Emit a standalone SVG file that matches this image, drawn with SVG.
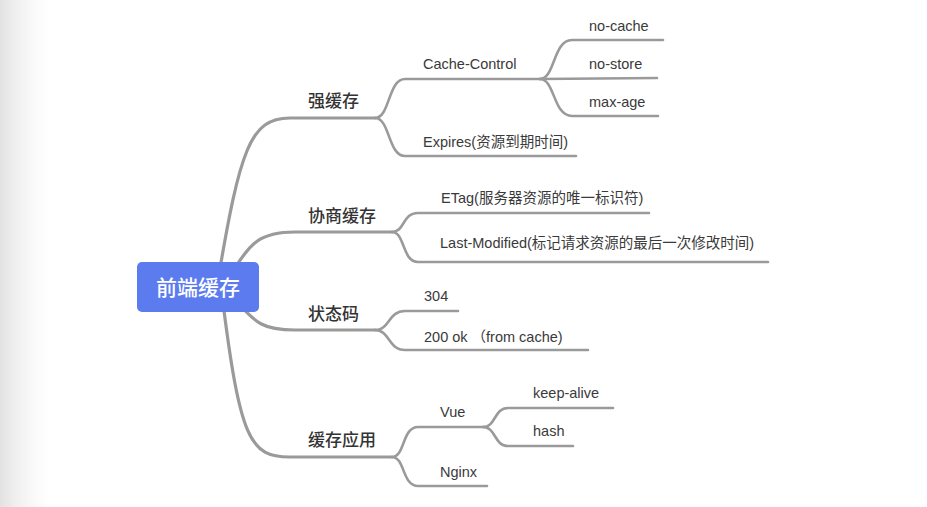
<svg xmlns="http://www.w3.org/2000/svg" width="927" height="507" viewBox="0 0 927 507">
<defs>
<linearGradient id="bg" x1="0" y1="0" x2="1" y2="0">
<stop offset="0" stop-color="#e2e2e2"/>
<stop offset="0.3" stop-color="#efefef"/>
<stop offset="0.7" stop-color="#fafafa"/>
<stop offset="1" stop-color="#ffffff"/>
</linearGradient>
<style>
.main{fill:none;stroke:#9a9a9a;stroke-width:3.2;stroke-linecap:round}
.sub{fill:none;stroke:#9a9a9a;stroke-width:2.6;stroke-linecap:round}
.t1{font-family:"Liberation Sans","Noto Sans CJK SC",sans-serif;font-size:17px;fill:#333;font-weight:500}
.t2{font-family:"Liberation Sans","Noto Sans CJK SC",sans-serif;font-size:14.5px;fill:#3a3a3a}
.root{font-family:"Liberation Sans","Noto Sans CJK SC",sans-serif;font-size:21px;fill:#fff;font-weight:500}
</style>
</defs>
<rect width="927" height="507" fill="#fff"/>
<rect width="50" height="507" fill="url(#bg)"/>
<g id="connectors">
<path class="main" d="M218 280 C240 150 250 118 290 118 L375 118"/>
<path class="main" d="M228 280 C250 240 262 232 295 232 L392 232"/>
<path class="main" d="M232 295 C255 325 265 330 295 330 L375 330"/>
<path class="main" d="M222 295 C240 440 250 457 290 457 L392 457"/>
<path class="sub" d="M375 118 C390 118 388 79 405 79 L540 79"/>
<path class="sub" d="M375 118 C390 118 388 156 405 156 L576 156"/>
<path class="sub" d="M540 79 C555 79 553 40 572 40 L663 40"/>
<path class="sub" d="M540 79 L657 78"/>
<path class="sub" d="M540 79 C555 79 553 116 572 116 L658 116"/>
<path class="sub" d="M392 232 C405 232 402 213 418 213 L649 213"/>
<path class="sub" d="M392 232 C405 232 402 262 418 262 L768 262"/>
<path class="sub" d="M375 330 C390 330 388 311 405 311 L458 311"/>
<path class="sub" d="M375 330 C390 330 388 350 405 350 L588 350"/>
<path class="sub" d="M392 457 C405 457 402 427 418 427 L483 427"/>
<path class="sub" d="M392 457 C405 457 402 486 418 486 L487 486"/>
<path class="sub" d="M483 427 C496 427 494 408 508 408 L613 408"/>
<path class="sub" d="M483 427 C496 427 494 446 508 446 L573 446"/>
</g>
<g id="root">
<rect x="137" y="262" width="122" height="50" rx="5" fill="#5b7bef"/>
<text class="root" x="198" y="295" text-anchor="middle">前端缓存</text>
</g>
<g id="n-qiang"><text class="t1" x="308" y="107">强缓存</text></g>
<g id="n-xieshang"><text class="t1" x="308" y="222">协商缓存</text></g>
<g id="n-status"><text class="t1" x="308" y="320">状态码</text></g>
<g id="n-app"><text class="t1" x="308" y="446">缓存应用</text></g>
<g id="n-cc"><text class="t2" x="423" y="69">Cache-Control</text></g>
<g id="n-expires"><text class="t2" x="423" y="147">Expires(资源到期时间)</text></g>
<g id="n-nocache"><text class="t2" x="589" y="31">no-cache</text></g>
<g id="n-nostore"><text class="t2" x="589" y="69">no-store</text></g>
<g id="n-maxage"><text class="t2" x="589" y="107">max-age</text></g>
<g id="n-etag"><text class="t2" x="441" y="203">ETag(服务器资源的唯一标识符)</text></g>
<g id="n-lm"><text class="t2" x="440" y="248">Last-Modified(标记请求资源的最后一次修改时间)</text></g>
<g id="n-304"><text class="t2" x="424" y="301">304</text></g>
<g id="n-200"><text class="t2" x="424" y="342">200 ok （from cache)</text></g>
<g id="n-vue"><text class="t2" x="440" y="417">Vue</text></g>
<g id="n-nginx"><text class="t2" x="440" y="477">Nginx</text></g>
<g id="n-keep"><text class="t2" x="533" y="398">keep-alive</text></g>
<g id="n-hash"><text class="t2" x="533" y="436">hash</text></g>
</svg>
